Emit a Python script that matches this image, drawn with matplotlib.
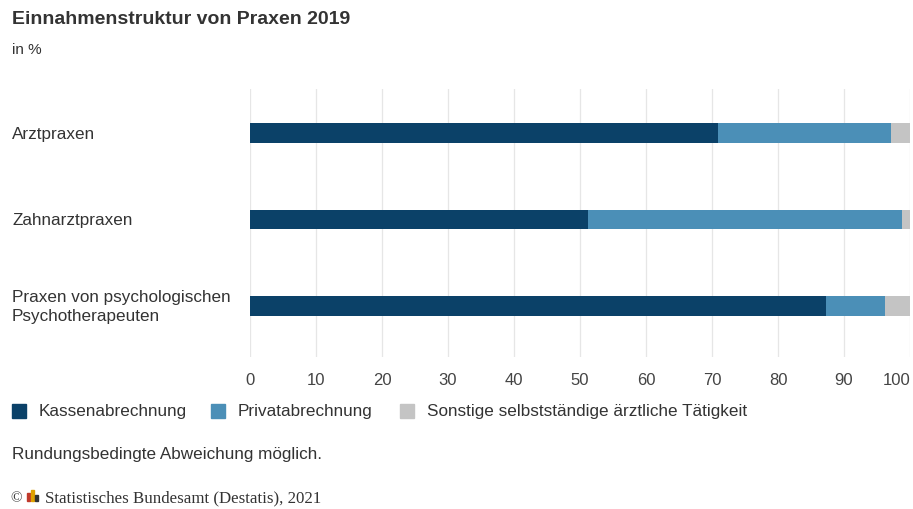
import matplotlib.pyplot as plt
from matplotlib.patches import Rectangle
from matplotlib.transforms import blended_transform_factory

plt.rcParams["font.family"] = ["Liberation Sans", "DejaVu Sans"]

categories = ["Arztpraxen", "Zahnarztpraxen", "Praxen von psychologischen\nPsychotherapeuten"]
series_names = ["Kassenabrechnung", "Privatabrechnung", "Sonstige selbstständige ärztliche Tätigkeit"]
kasse = [70.9, 51.2, 87.2]
privat = [26.2, 47.6, 9.0]
sonstige = [2.9, 1.2, 3.8]
colors = ["#0b4168", "#4b8fb7", "#c4c4c4"]
xticks = [0, 10, 20, 30, 40, 50, 60, 70, 80, 90, 100]

W, H = 913, 510
TXT = "#333333"

fig = plt.figure(figsize=(W / 100, H / 100), dpi=100)
ax = fig.add_axes([250 / W, 1 - 358 / H, 660 / W, 268 / H])

ypos = list(range(len(categories)))
left = [0] * len(categories)
for vals, name, col in zip([kasse, privat, sonstige], series_names, colors):
    ax.barh(ypos, vals, left=left, height=0.23, color=col, label=name, zorder=2)
    left = [l + v for l, v in zip(left, vals)]

ax.set_xlim(0, 100)
ax.set_ylim(2.59, -0.51)
ax.set_xticks(xticks)
ax.set_yticks([])
ax.tick_params(axis="x", length=0, pad=11, labelsize=12, labelcolor="#444444")
ax.get_xticklabels()[-1].set_ha("right")
ax.grid(axis="x", color="#e6e6e6", linewidth=0.9, zorder=0)
for s in ax.spines.values():
    s.set_visible(False)

# category labels, left aligned at the figure edge
trans = blended_transform_factory(fig.transFigure, ax.transData)
for y, cat in zip(ypos, categories):
    ax.text(12 / W, y, cat, transform=trans, ha="left", va="center",
            fontsize=12.3, color=TXT, linespacing=1.3)

fig.text(12 / W, 1 - 20 / H, "Einnahmenstruktur von Praxen 2019", fontsize=14,
         fontweight="bold", color=TXT, va="center")
fig.text(12 / W, 1 - 50 / H, "in %", fontsize=11, color=TXT, va="center")

# legend
leg_x = [12, 211, 400]
for x, name, col in zip(leg_x, series_names, colors):
    fig.add_artist(Rectangle((x / W, 1 - 419 / H), 14 / W, 14 / H, color=col,
                             transform=fig.transFigure))
    fig.text((x + 27) / W, 1 - 412 / H, name, fontsize=12.3, color=TXT, va="center")

fig.text(12 / W, 1 - 455 / H, "Rundungsbedingte Abweichung möglich.", fontsize=12.3,
         color=TXT, va="center")

# source line with small logo
fig.text(10 / W, 1 - 499 / H, "©", fontsize=11, color=TXT, va="center",
         family=["Liberation Serif", "DejaVu Serif"])
for dx, h, col in [(0, 8, "#c0392b"), (4, 11, "#e0a100"), (8, 6, "#333333")]:
    fig.add_artist(Rectangle(((27 + dx) / W, 1 - 502 / H), 3 / W, h / H, color=col,
                             transform=fig.transFigure))
fig.text(45 / W, 1 - 498 / H, "Statistisches Bundesamt (Destatis), 2021", fontsize=12.2,
         color=TXT, va="center", family=["Liberation Serif", "DejaVu Serif"])

fig.savefig("out.png", dpi=100)
